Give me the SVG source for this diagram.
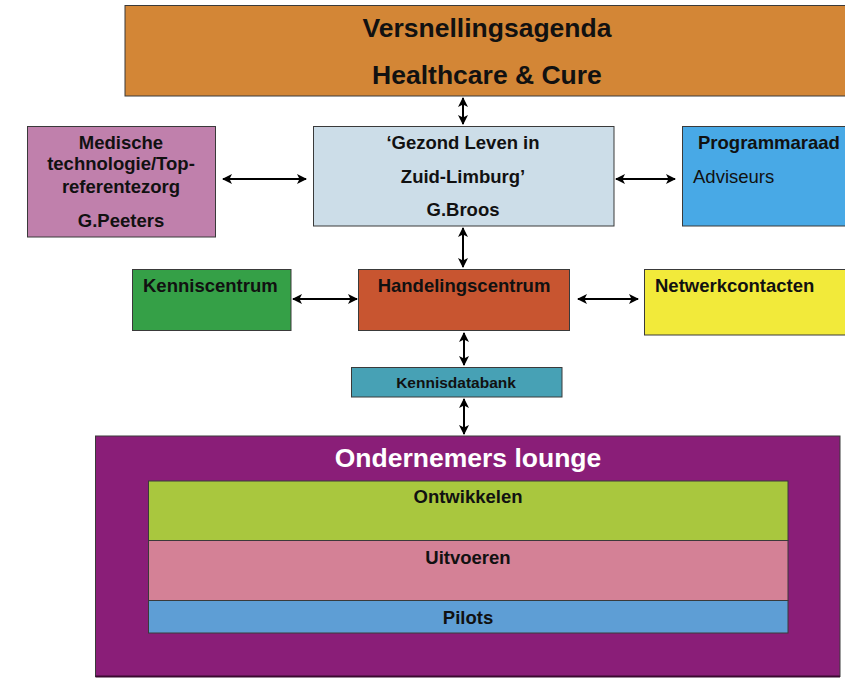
<svg xmlns="http://www.w3.org/2000/svg" width="845" height="678" viewBox="0 0 845 678">
  <style>
    .box { stroke: #3a3a3a; stroke-width: 1; }
    .t { font-family: "Liberation Sans", Arial, sans-serif; font-weight: bold; fill: #111; }
    .c { text-anchor: middle; }
    .n { font-family: "Liberation Sans", Arial, sans-serif; fill: #111; }
    .conn { stroke: #000; stroke-width: 2; fill: none; marker-start: url(#ah); marker-end: url(#ah); }
  </style>
  <defs>
    <marker id="ah" viewBox="0 0 10 10" refX="9" refY="5" markerWidth="5.2" markerHeight="5" orient="auto-start-reverse" markerUnits="strokeWidth">
      <path d="M0,0 L10,5 L0,10 L2.5,5 z" fill="#000"/>
    </marker>
  </defs>
  <rect width="845" height="678" fill="#fff"/>

  <g id="versnellingsagenda">
    <rect class="box" x="125" y="5.5" width="725" height="90.5" fill="#D38636"/>
    <text class="t c" x="487" y="37" font-size="26.5">Versnellingsagenda</text>
    <text class="t c" x="487" y="84" font-size="26.5">Healthcare &amp; Cure</text>
  </g>

  <g id="medische-technologie">
    <rect class="box" x="27.5" y="126.5" width="188" height="110.5" fill="#C080AC"/>
    <text class="t c" x="121" y="149" font-size="18.5">Medische</text>
    <text class="t c" x="121" y="170" font-size="18.5">technologie/Top-</text>
    <text class="t c" x="121" y="193" font-size="18.5">referentezorg</text>
    <text class="t c" x="121" y="227" font-size="18.5">G.Peeters</text>
  </g>

  <g id="gezond-leven">
    <rect class="box" x="313.5" y="126.5" width="300.5" height="99.5" fill="#CCDDE8"/>
    <text class="t c" x="463" y="149" font-size="18.5">‘Gezond Leven in</text>
    <text class="t c" x="463" y="183" font-size="18.5">Zuid-Limburg’</text>
    <text class="t c" x="463" y="216" font-size="18.5">G.Broos</text>
  </g>

  <g id="programmaraad">
    <rect class="box" x="682.5" y="126.5" width="170" height="99.5" fill="#48A9E6"/>
    <text class="t" x="698" y="149" font-size="18.5">Programmaraad</text>
    <text class="n" x="693" y="183" font-size="18.5">Adviseurs</text>
  </g>

  <g id="kenniscentrum">
    <rect class="box" x="132.5" y="269.5" width="158.5" height="61" fill="#35A047"/>
    <text class="t" x="143" y="292" font-size="18.5">Kenniscentrum</text>
  </g>

  <g id="handelingscentrum">
    <rect class="box" x="358.5" y="269.5" width="211" height="61" fill="#C85530"/>
    <text class="t c" x="464" y="292" font-size="18.5">Handelingscentrum</text>
  </g>

  <g id="netwerkcontacten">
    <rect class="box" x="644.5" y="269.5" width="210" height="65.5" fill="#F2EA3A"/>
    <text class="t" x="655" y="292" font-size="18.5">Netwerkcontacten</text>
  </g>

  <g id="kennisdatabank">
    <rect class="box" x="351.5" y="367.5" width="210.5" height="29.5" fill="#47A1B5"/>
    <text class="t c" x="456" y="387.5" font-size="15.5">Kennisdatabank</text>
  </g>

  <g id="ondernemers-lounge">
    <rect class="box" x="95.5" y="436" width="744.5" height="240.5" fill="#8A1E78"/>
    <line x1="95.5" y1="676.5" x2="840" y2="676.5" stroke="#3a0a30" stroke-width="2"/>
    <text class="t c" x="468" y="467" font-size="26.5" style="fill:#fff">Ondernemers lounge</text>
  </g>

  <g id="ontwikkelen">
    <rect class="box" x="148.5" y="481" width="639.5" height="59.5" fill="#A9C73E"/>
    <text class="t c" x="468" y="503" font-size="18.5">Ontwikkelen</text>
  </g>

  <g id="uitvoeren">
    <rect class="box" x="148.5" y="540.5" width="639.5" height="60" fill="#D48196"/>
    <text class="t c" x="468" y="564" font-size="18.5">Uitvoeren</text>
  </g>

  <g id="pilots">
    <rect class="box" x="148.5" y="600.5" width="639.5" height="32.5" fill="#5E9ED5"/>
    <text class="t c" x="468" y="624" font-size="18.5">Pilots</text>
  </g>

  <g id="connectors">
    <line class="conn" x1="463" y1="98" x2="463" y2="124"/>
    <line class="conn" x1="223" y1="179" x2="306" y2="179"/>
    <line class="conn" x1="616" y1="179" x2="675" y2="179"/>
    <line class="conn" x1="463" y1="228" x2="463" y2="267"/>
    <line class="conn" x1="293" y1="299" x2="357" y2="299"/>
    <line class="conn" x1="578" y1="299" x2="638" y2="299"/>
    <line class="conn" x1="464" y1="333" x2="464" y2="365"/>
    <line class="conn" x1="464" y1="399" x2="464" y2="434"/>
  </g>
</svg>
